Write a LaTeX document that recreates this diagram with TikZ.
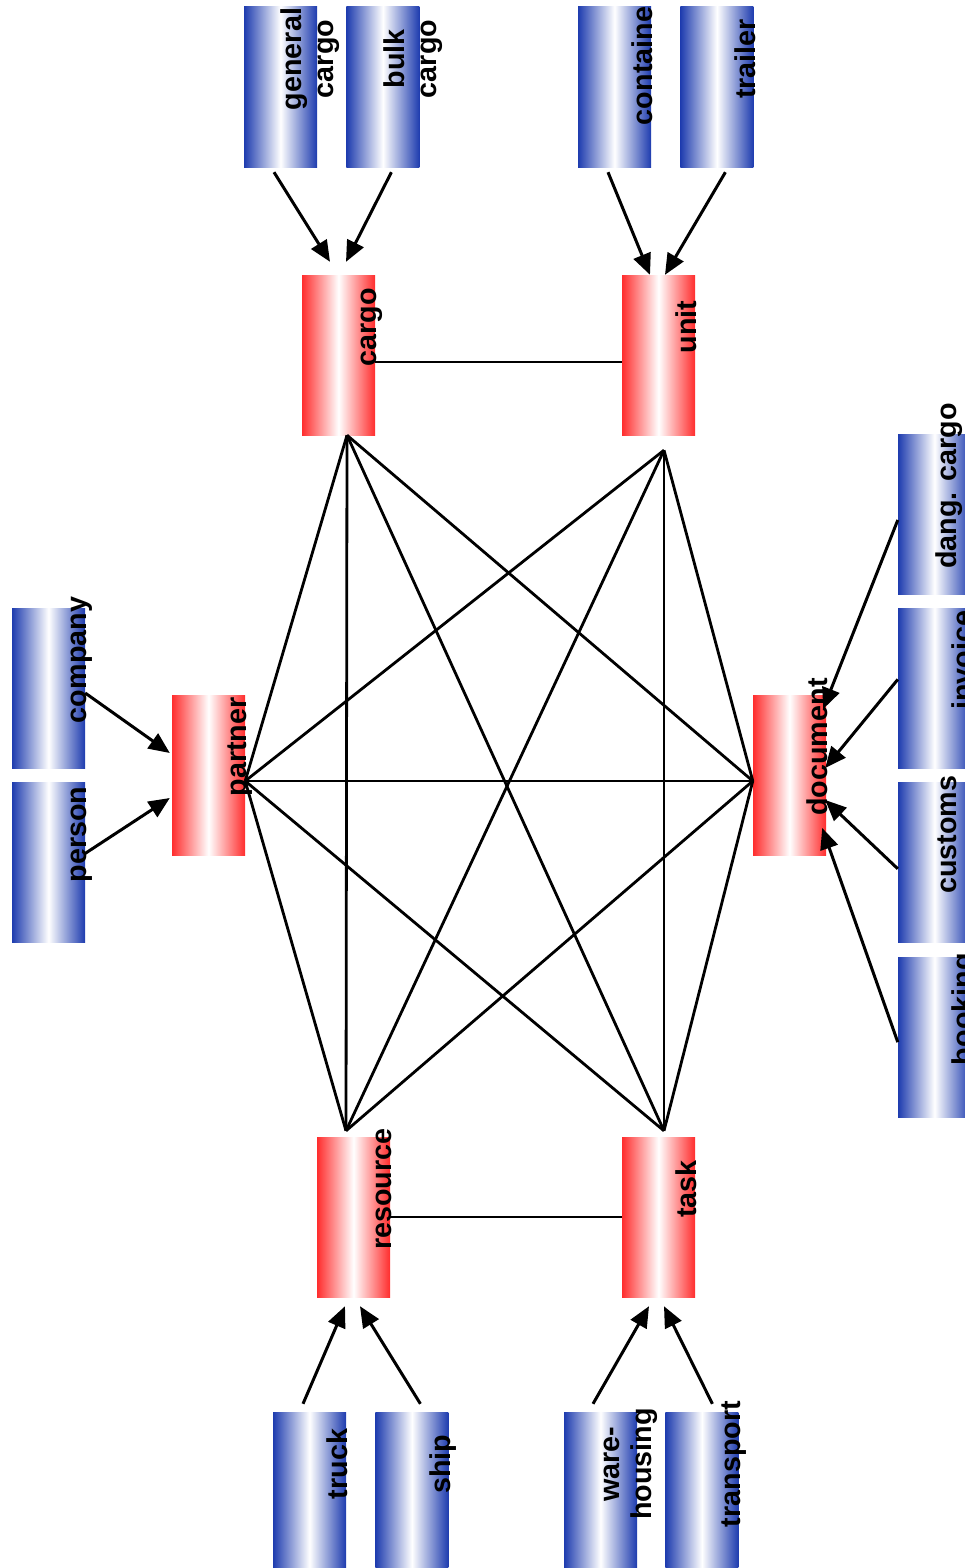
\documentclass[tikz,border=0pt]{standalone}
\usepackage{fontspec}
\setmainfont{Liberation Sans}
\usetikzlibrary{arrows.meta,positioning}
\definecolor{boxred}{RGB}{255,45,45}
\definecolor{boxblue}{RGB}{30,60,175}

\begin{document}
\begin{tikzpicture}[x=1pt,y=-1pt,% picture coordinates, y grows downwards
			every node/.style={inner sep=0pt},
			entity/.style={% red main classes
				rectangle,minimum width=73pt,minimum height=160pt,
				left color=boxred,right color=boxred,middle color=white
			},
			kind/.style={% blue sub classes
				rectangle,minimum width=73pt,minimum height=160pt,
				left color=boxblue,right color=boxblue,middle color=white
			},
			lbl/.style={% rotated box text
				rotate=90,align=center,
				font=\bfseries\fontsize{28.7}{32}\selectfont,
				execute at begin node=\strut,execute at end node=\strut
			},
			rel/.style={draw,line width=2.8pt},
			isa/.style={draw,line width=3pt,-{Triangle[length=21pt,width=18pt]}},
			node distance=29pt
		]
		\useasboundingbox (0,0) rectangle (964,1568);
		% main classes
		\node[entity](cargo) at (338.5,355){};
		\node[entity](unit) at (658.5,355){};
		\node[entity](partner) at (208.5,775){};
		\node[entity](document) at (789.5,775){};
		\node[entity](resource) at (353.5,1217){};
		\node[entity](task) at (658.5,1217){};
		% sub classes
		\node[kind](gencargo) at (280.5,87){};
		\node[kind](bulkcargo)[right= of gencargo]{};
		\node[kind](container) at (614.5,87){};
		\node[kind](trailer)[right= of container]{};
		\node[kind](company) at (48.5,688){};
		\node[kind](person)[below=14pt of company]{};
		\node[kind](dangcargo) at (934.5,514){};
		\node[kind](invoice)[below=14pt of dangcargo]{};
		\node[kind](customs)[below=14pt of invoice]{};
		\node[kind](booking)[below=14pt of customs]{};
		\node[kind](truck) at (309.5,1492){};
		\node[kind](ship)[right= of truck]{};
		\node[kind](warehousing) at (600.5,1492){};
		\node[kind](transport)[right=28pt of warehousing]{};
		% texts
		\node[lbl](cargo-t) at ([shift={(-5,-28)}]cargo.east){cargo};
		\node[lbl](unit-t) at ([shift={(-5,-28)}]unit.east){unit};
		\node[lbl](partner-t) at ([shift={(-5,-28)}]partner.east){partner};
		\node[lbl](document-t) at ([shift={(-5,-28)}]document.east){document};
		\node[lbl](resource-t) at ([shift={(-5,-28)}]resource.east){resource};
		\node[lbl](task-t) at ([shift={(-5,-28)}]task.east){task};
		\node[lbl](gencargo-t) at ([shift={(-5,-28)}]gencargo.east){general\\cargo};
		\node[lbl](bulkcargo-t) at ([shift={(-5,-28)}]bulkcargo.east){bulk\\cargo};
		\node[lbl](container-t) at ([shift={(-5,-21)}]container.east){containe};
		\node[lbl](trailer-t) at ([shift={(-5,-28)}]trailer.east){trailer};
		\node[lbl](company-t) at ([shift={(-5,-28)}]company.east){company};
		\node[lbl](person-t) at ([shift={(-5,-28)}]person.east){person};
		\node[lbl](dangcargo-t) at ([shift={(-21,-28)}]dangcargo.east){dang. cargo};
		\node[lbl](invoice-t) at ([shift={(-5,-28)}]invoice.east){invoice};
		\node[lbl](customs-t) at ([shift={(-21,-28)}]customs.east){customs};
		\node[lbl](booking-t) at ([shift={(-5,-28)}]booking.east){booking};
		\node[lbl](truck-t) at ([shift={(-5,-28)}]truck.east){truck};
		\node[lbl](ship-t) at ([shift={(-5,-28)}]ship.east){ship};
		\node[lbl](warehousing-t) at ([shift={(-5,-28)}]warehousing.east){ware-\\housing};
		\node[lbl](transport-t) at ([shift={(-5,-28)}]transport.east){transport};
		% meeting points of the relations
		\coordinate (cargo-c) at ([shift={(8.5,0)}]cargo.south);
		\coordinate (unit-c) at ([shift={(5.5,15)}]unit.south);
		\coordinate (partner-c) at ([shift={(0,6)}]partner.east);
		\coordinate (document-c) at ([shift={(0,6)}]document.west);
		\coordinate (resource-c) at ([shift={(-7.5,-6)}]resource.north);
		\coordinate (task-c) at ([shift={(5.5,-6)}]task.north);
		\path
		([shift={(0,7)}]cargo.east) edge[rel] ([shift={(0,7)}]unit.west)
		(resource.east) edge[rel] (task.west)
		(cargo-c) edge[rel] (partner-c)
		(cargo-c) edge[rel] (resource-c)
		(cargo-c) edge[rel] (task-c)
		(cargo-c) edge[rel] (document-c)
		(unit-c) edge[rel] (partner-c)
		(unit-c) edge[rel] (resource-c)
		(unit-c) edge[rel] (task-c)
		(unit-c) edge[rel] (document-c)
		(partner-c) edge[rel] (document-c)
		(partner-c) edge[rel] (resource-c)
		(partner-c) edge[rel] (task-c)
		(document-c) edge[rel] (resource-c)
		(document-c) edge[rel] (task-c)
		;
		\path
		([shift={(-6.5,5)}]gencargo.south) edge[isa] ([shift={(-8.5,-13)}]cargo.north)
		([shift={(8.5,5)}]bulkcargo.south) edge[isa] ([shift={(7.5,-13)}]cargo.north)
		([shift={(-6.5,5)}]container.south) edge[isa] ([shift={(-8.5,0)}]unit.north)
		([shift={(8.5,5)}]trailer.south) edge[isa] ([shift={(6.5,0)}]unit.north)
		([shift={(0,5)}]company.east) edge[isa] ([shift={(-2,-22)}]partner.west)
		([shift={(0,-9)}]person.east) edge[isa] ([shift={(-2,23)}]partner.west)
		([shift={(0,6)}]dangcargo.west) edge[isa] ([shift={(-3,-66)}]document.east)
		([shift={(0,-9)}]invoice.west) edge[isa] ([shift={(-1,-7)}]document.east)
		([shift={(0,6)}]customs.west) edge[isa] ([shift={(-1,25)}]document.east)
		([shift={(0,5)}]booking.west) edge[isa] ([shift={(-4,53)}]document.east)
		([shift={(-6.5,-8)}]truck.north) edge[isa] ([shift={(-8.5,9)}]resource.south)
		([shift={(8.5,-8)}]ship.north) edge[isa] ([shift={(6.5,9)}]resource.south)
		([shift={(-7.5,-8)}]warehousing.north) edge[isa] ([shift={(-9.5,9)}]task.south)
		([shift={(10.5,-8)}]transport.north) edge[isa] ([shift={(5.5,9)}]task.south)
		;
	\end{tikzpicture}
\end{document}
